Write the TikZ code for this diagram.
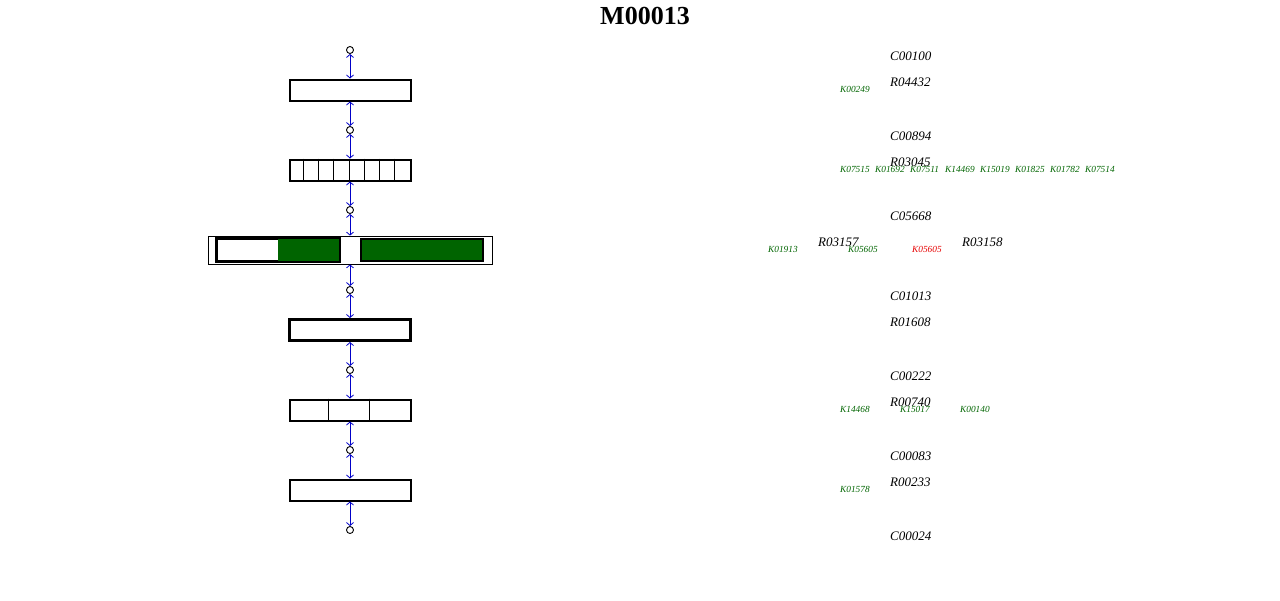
\documentclass[tikz,border=0pt]{standalone}
\usepackage{fontspec}
\setmainfont{Liberation Serif}
\usetikzlibrary{arrows.meta,calc}
\definecolor{kgreen}{RGB}{0,100,0}
\definecolor{kred}{RGB}{230,0,0}
\definecolor{lblue}{RGB}{0,0,200}
\tikzset{
  cpd/.style={circle,draw,line width=0.9pt,minimum size=7pt,inner sep=0pt},
  rbox/.style={draw,line width=2pt,minimum width=121pt,minimum height=21pt,inner sep=0pt},
  conn/.style={lblue,line width=0.8pt,{Straight Barb[length=3pt,width=7pt]}-{Straight Barb[length=3pt,width=7pt]}},
  clab/.style={anchor=base west,font=\fontsize{13}{13}\selectfont\itshape,inner sep=0pt},
  klab/.style={anchor=base west,font=\fontsize{9.3}{9.3}\selectfont\itshape,inner sep=0pt,text=kgreen},
}
\begin{document}
\begin{tikzpicture}[x=1pt,y=-1pt]
\useasboundingbox (0,0) rectangle (1280,600);
\node[font=\fontsize{26}{26}\selectfont\bfseries] (title) at (645,16) {M00013};
% compounds
\foreach \i/\y in {1/50,2/130,3/210,4/290,5/370,6/450,7/530}
  \node[cpd] (c\i) at (350,\y) {};
% boxes
\node[rbox] (b1) at (350,90) {};
\node[rbox] (b2) at (350,170) {};
\foreach \k in {1,...,7}
  \draw[line width=0.8pt] ($(b2.north west)+(\k*15.125,0)$) -- ($(b2.south west)+(\k*15.125,0)$);
\node[draw,line width=0.8pt,minimum width=284pt,minimum height=28pt,inner sep=0pt] (b3) at (350,250) {};
\node[rbox,minimum width=122pt,minimum height=22pt] (b3l) at (278,250) {};
\fill[kgreen] (b3l.north) rectangle (b3l.south east);
\draw[line width=2pt] (b3l.north west) rectangle (b3l.south east);
\node[rbox,fill=kgreen,minimum width=122pt,minimum height=22pt] (b3r) at (422,250) {};
\node[rbox,line width=3pt] (b4) at (350,330) {};
\node[rbox] (b5) at (350,410) {};
\foreach \k in {1,2}
  \draw[line width=0.8pt] ($(b5.north west)+(\k*40.33,0)$) -- ($(b5.south west)+(\k*40.33,0)$);
\node[rbox] (b6) at (350,490) {};
% connectors
\draw[conn] (c1) -- (b1);
\draw[conn] (b1) -- (c2);
\draw[conn] (c2) -- (b2);
\draw[conn] (b2) -- (c3);
\draw[conn] (c3) -- (b3);
\draw[conn] (b3) -- (c4);
\draw[conn] (c4) -- (b4);
\draw[conn] (b4) -- (c5);
\draw[conn] (c5) -- (b5);
\draw[conn] (b5) -- (c6);
\draw[conn] (c6) -- (b6);
\draw[conn] (b6) -- (c7);
% right labels
\node[clab] (C1) at (890,60) {C00100};
\node[clab] (R1) at (890,86) {R04432};
\node[klab] (K1) at (840,92) {K00249};
\node[clab] (C2) at (890,140) {C00894};
\node[clab] (R2) at (890,166) {R03045};
\foreach \n [count=\j from 0] in {K07515,K01692,K07511,K14469,K15019,K01825,K01782,K07514}
  \node[klab] (K2\j) at (840+35*\j,172) {\n};
\node[clab] (C3) at (890,220) {C05668};
\node[clab] (R3a) at (818,246) {R03157};
\node[clab] (R3b) at (962,246) {R03158};
\node[klab] (K31) at (768,252) {K01913};
\node[klab] (K32) at (848,252) {K05605};
\node[klab,text=kred] (K33) at (912,252) {K05605};
\node[clab] (C4) at (890,300) {C01013};
\node[clab] (R4) at (890,326) {R01608};
\node[clab] (C5) at (890,380) {C00222};
\node[clab] (R5) at (890,406) {R00740};
\node[klab] (K51) at (840,412) {K14468};
\node[klab] (K52) at (900,412) {K15017};
\node[klab] (K53) at (960,412) {K00140};
\node[clab] (C6) at (890,460) {C00083};
\node[clab] (R6) at (890,486) {R00233};
\node[klab] (K61) at (840,492) {K01578};
\node[clab] (C7) at (890,540) {C00024};
\end{tikzpicture}
\end{document}
